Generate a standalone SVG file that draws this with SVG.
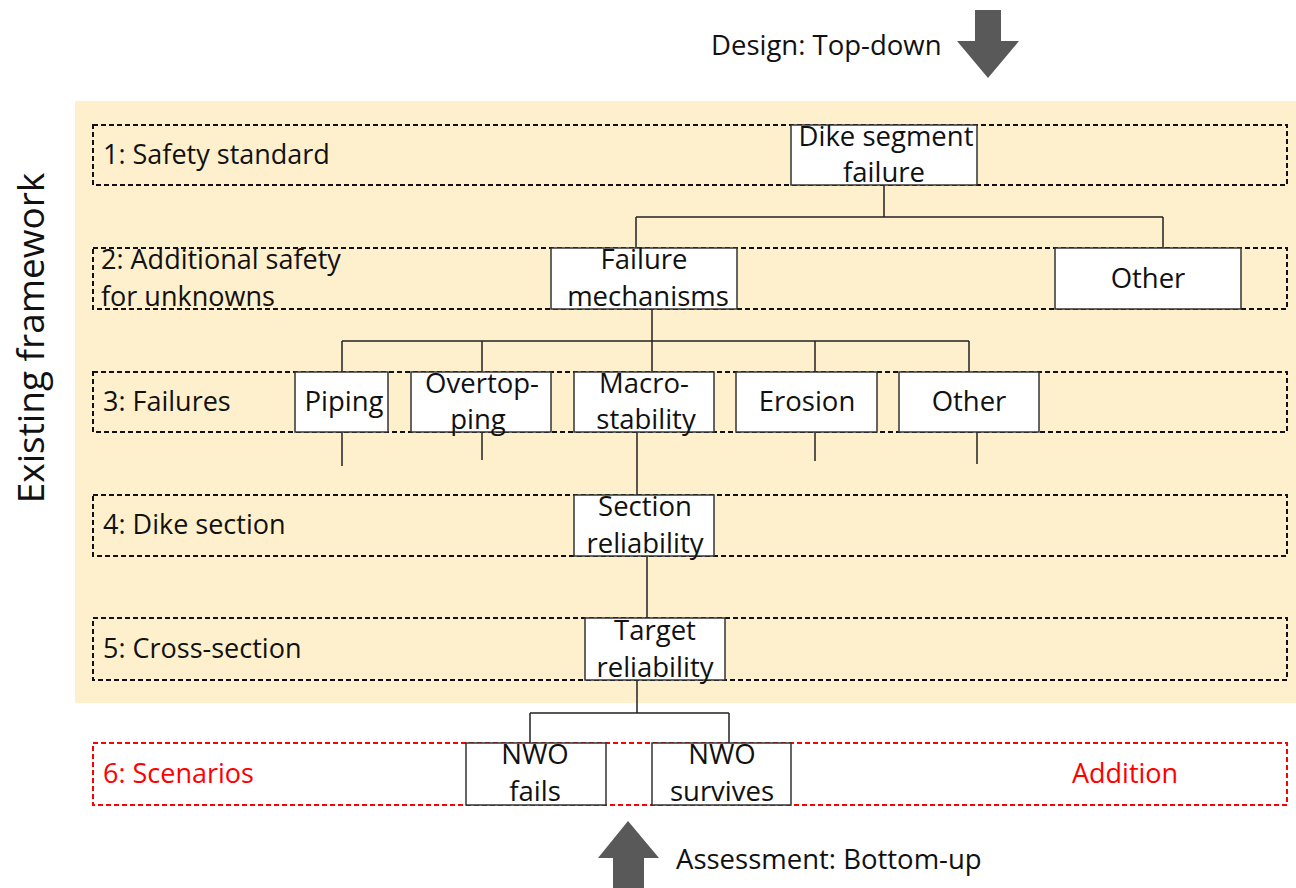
<svg xmlns="http://www.w3.org/2000/svg" width="1296" height="888" viewBox="0 0 1296 888">
<style>
text{font-family:"Open Sans","Noto Sans","Liberation Sans",sans-serif;font-size:27px;fill:#111}
.c{text-anchor:middle;font-size:27.5px}
.red{fill:#ff0000}
.layer{fill:none;stroke:#111;stroke-width:2;stroke-dasharray:5 3}
.layerR{fill:none;stroke:#ff0000;stroke-width:2;stroke-dasharray:5 3}
.node{fill:#fff;stroke:#333;stroke-width:1.5}
.conn{fill:none;stroke:#222;stroke-width:1.5}
.arrow{fill:#595959}
</style>
<rect x="0" y="0" width="1296" height="888" fill="#fff"/>
<rect x="75" y="101" width="1221" height="602" fill="#fef0cd"/>
<g id="layers">
<rect class="layer" x="93" y="125" width="1194" height="60"/>
<rect class="layer" x="93" y="248" width="1194" height="61"/>
<rect class="layer" x="93" y="372" width="1194" height="60"/>
<rect class="layer" x="93" y="495" width="1194" height="61"/>
<rect class="layer" x="93" y="618" width="1194" height="62"/>
<rect class="layerR" x="93" y="743" width="1194" height="62"/>
<text x="103" y="164">1: Safety standard</text>
<text x="101" y="269">2: Additional safety</text>
<text x="101" y="306">for unknowns</text>
<text x="103" y="411">3: Failures</text>
<text x="103" y="534">4: Dike section</text>
<text x="103" y="658">5: Cross-section</text>
<text class="red" x="103" y="783">6: Scenarios</text>
<text class="red" x="1072" y="783">Addition</text>
</g>
<g id="labels">
<text x="711" y="55" style="font-size:27.5px">Design: Top-down</text>
<text x="676" y="869" style="font-size:27.5px">Assessment: Bottom-up</text>
<text transform="translate(44,338) rotate(-90)" style="font-size:37px;text-anchor:middle">Existing framework</text>
<polygon class="arrow" points="975,10 1001,10 1001,41 1019,41 988,78 957,41 975,41"/>
<polygon class="arrow" points="613,888 644,888 644,858 659,858 628,821 598,858 613,858"/>
</g>
<g id="connectors">
<path class="conn" d="M884,185V217M636,217H1163M636,217V248M1163,217V248"/>
<path class="conn" d="M652,309V341M342,341H969M342,341V372M482,341V372M652,341V372M815,341V372M969,341V372"/>
<path class="conn" d="M342,432V466M482,432V460M815,432V461M977,432V464"/>
<path class="conn" d="M637,432V495"/>
<path class="conn" d="M647,556V618"/>
<path class="conn" d="M637,680V713M530,713H729M530,713V743M729,713V743"/>
</g>
<g id="n-dike"><rect class="node" x="791" y="125" width="186" height="60"/><text class="c" x="886" y="146">Dike segment</text><text class="c" x="884" y="182">failure</text></g>
<g id="n-mech"><rect class="node" x="551" y="248" width="186" height="61"/><text class="c" x="644" y="269">Failure</text><text class="c" x="648" y="306">mechanisms</text></g>
<g id="n-other2"><rect class="node" x="1055" y="248" width="186" height="61"/><text class="c" x="1148" y="288">Other</text></g>
<g id="n-piping"><rect class="node" x="295" y="372" width="93" height="60"/><text class="c" x="344" y="411">Piping</text></g>
<g id="n-overtop"><rect class="node" x="411" y="372" width="140" height="60"/><text class="c" x="482" y="393">Overtop-</text><text class="c" x="478" y="429">ping</text></g>
<g id="n-macro"><rect class="node" x="574" y="372" width="140" height="60"/><text class="c" x="644" y="393">Macro-</text><text class="c" x="646" y="429">stability</text></g>
<g id="n-erosion"><rect class="node" x="736" y="372" width="141" height="60"/><text class="c" x="807" y="411">Erosion</text></g>
<g id="n-other3"><rect class="node" x="899" y="372" width="140" height="60"/><text class="c" x="969" y="411">Other</text></g>
<g id="n-section"><rect class="node" x="574" y="495" width="140" height="61"/><text class="c" x="645" y="516">Section</text><text class="c" x="645" y="553">reliability</text></g>
<g id="n-target"><rect class="node" x="585" y="618" width="140" height="62"/><text class="c" x="655" y="640">Target</text><text class="c" x="655" y="677">reliability</text></g>
<g id="n-fails"><rect class="node" x="466" y="743" width="140" height="62"/><text class="c" x="535" y="764">NWO</text><text class="c" x="535" y="801">fails</text></g>
<g id="n-survives"><rect class="node" x="652" y="743" width="139" height="62"/><text class="c" x="722" y="764">NWO</text><text class="c" x="722" y="801">survives</text></g>
</svg>
